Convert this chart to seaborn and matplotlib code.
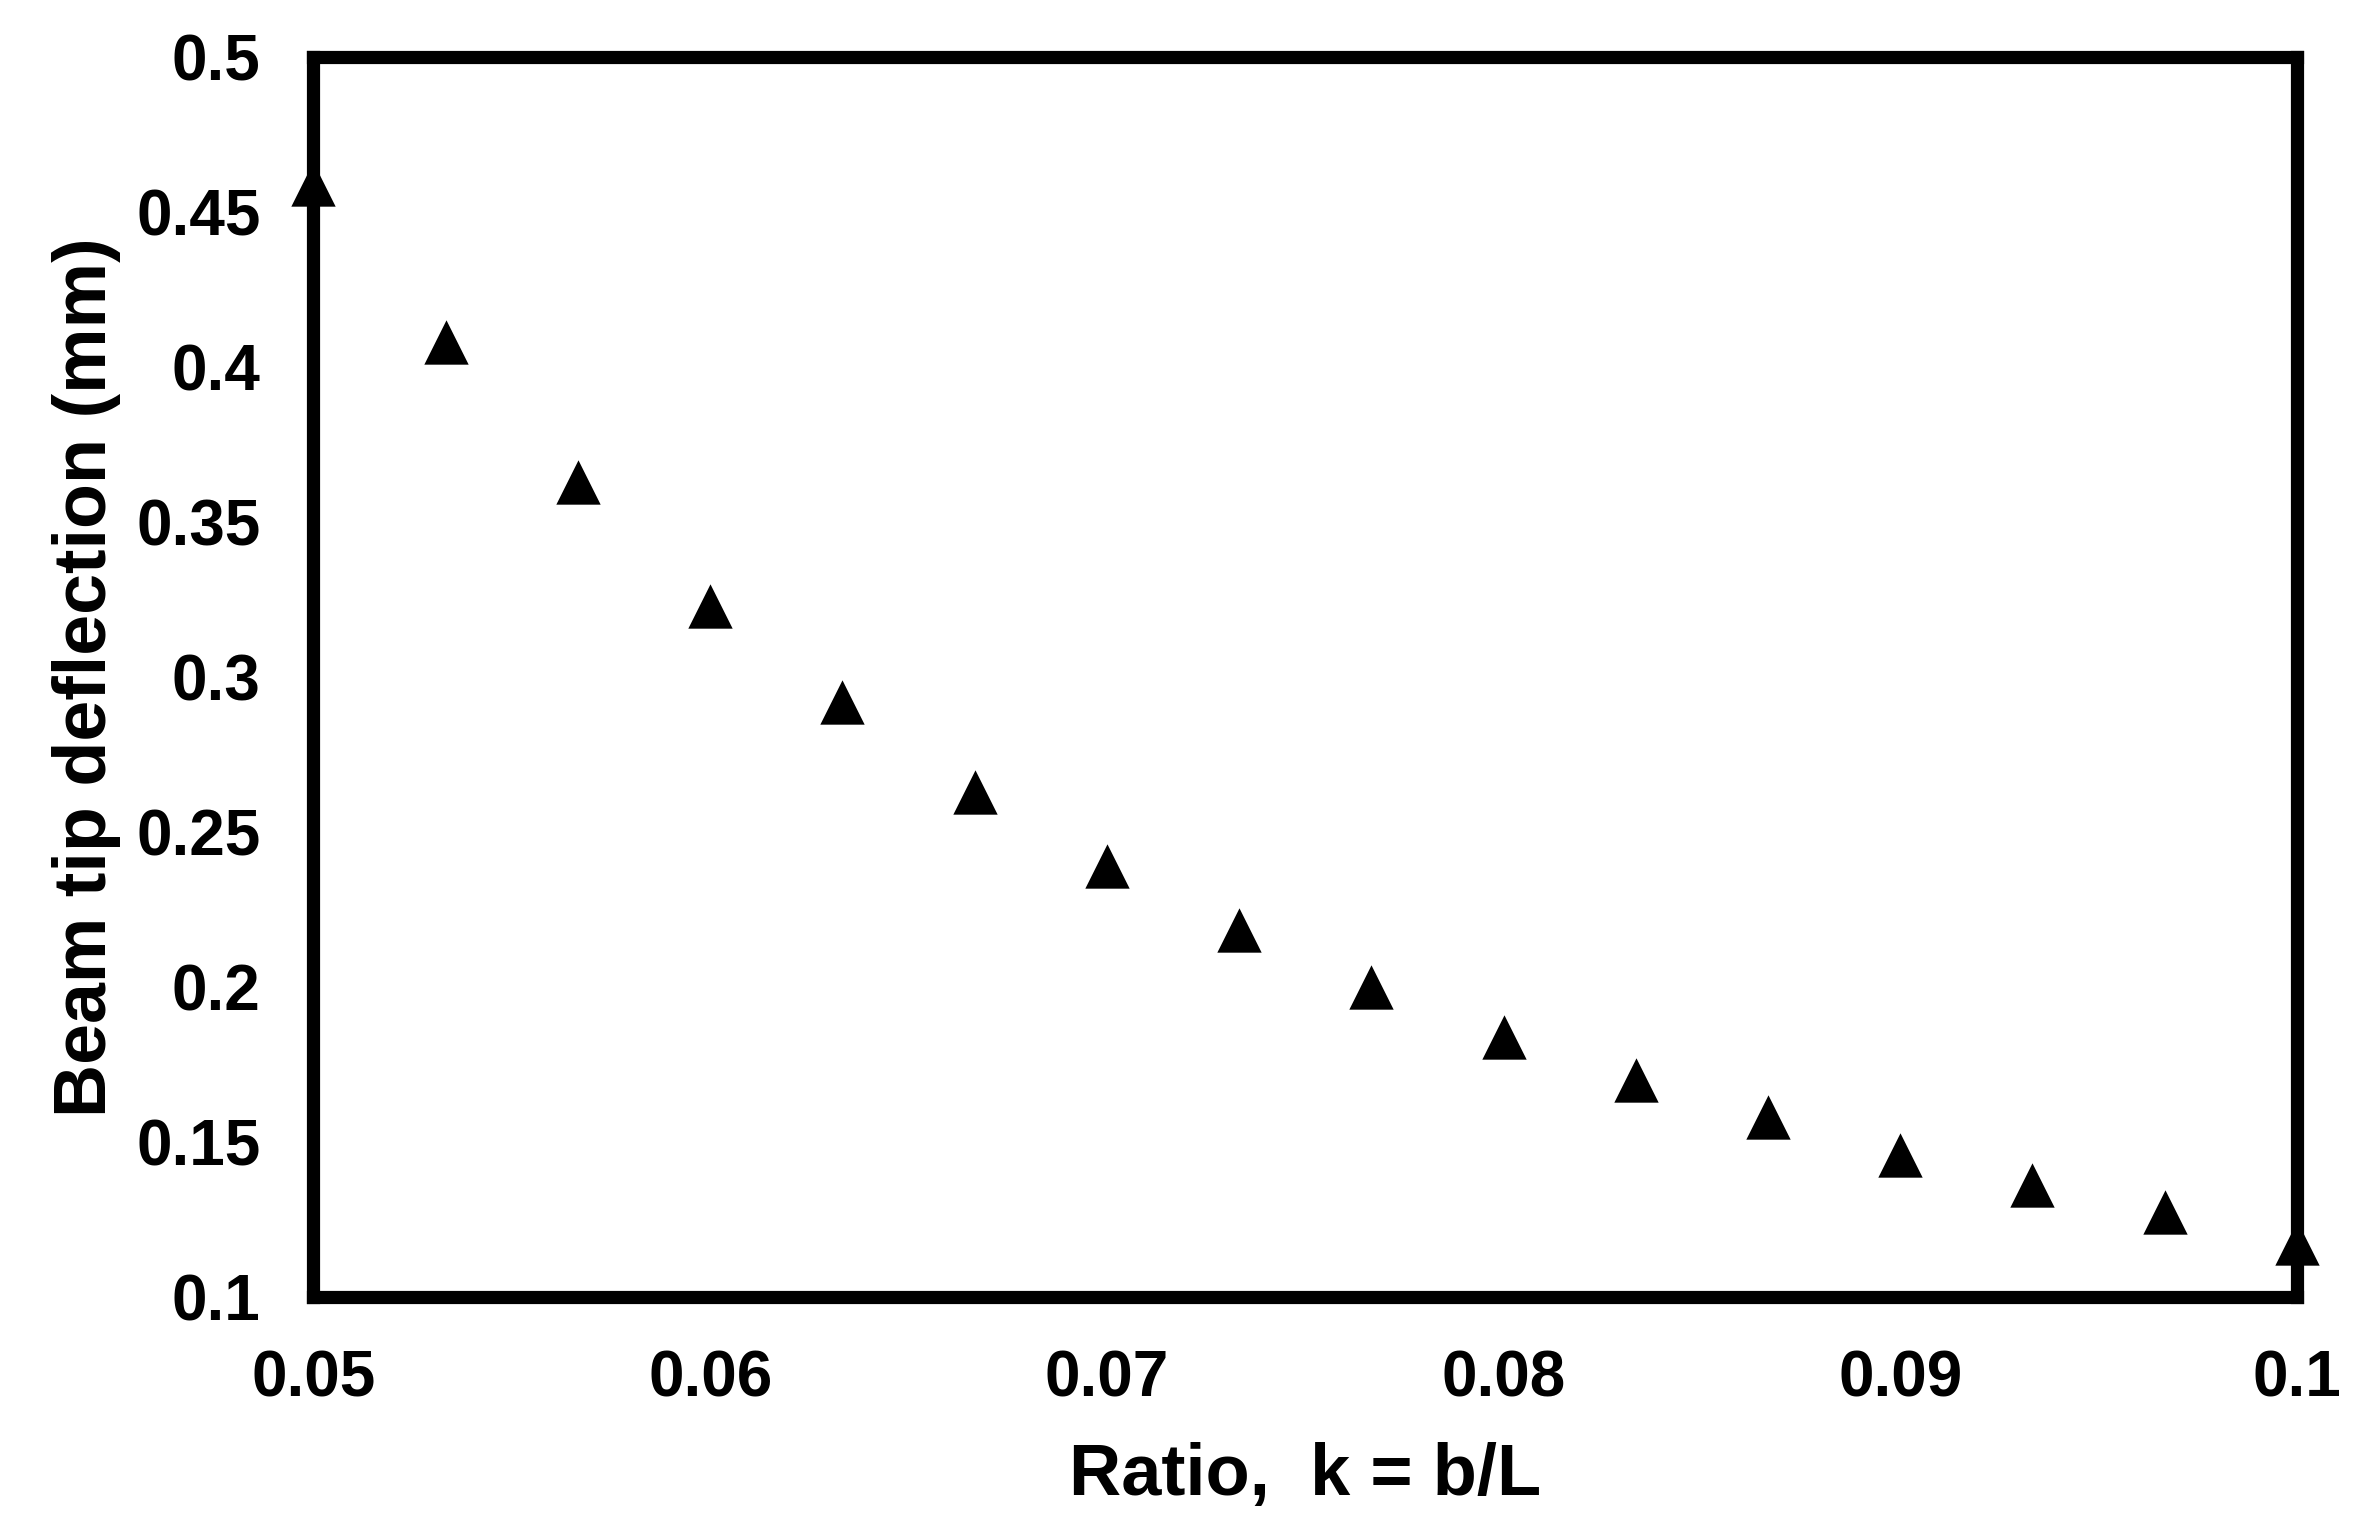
import matplotlib
matplotlib.use("Agg")
import matplotlib.pyplot as plt
import seaborn as sns
import pandas as pd

ratio_k = [0.05, 0.053333, 0.056667, 0.06, 0.063333, 0.066667, 0.07, 0.073333,
           0.076667, 0.08, 0.083333, 0.086667, 0.09, 0.093333, 0.096667, 0.1]
deflection_mm = [0.459, 0.408, 0.363, 0.323, 0.292, 0.263, 0.239, 0.2185,
                 0.200, 0.184, 0.170, 0.158, 0.1457, 0.136, 0.1274, 0.1175]
x_ticks = [0.05, 0.06, 0.07, 0.08, 0.09, 0.1]
x_tick_labels = ["0.05", "0.06", "0.07", "0.08", "0.09", "0.1"]
y_ticks = [0.1, 0.15, 0.2, 0.25, 0.3, 0.35, 0.4, 0.45, 0.5]
y_tick_labels = ["0.1", "0.15", "0.2", "0.25", "0.3", "0.35", "0.4", "0.45", "0.5"]

df = pd.DataFrame({"k": ratio_k, "d": deflection_mm})

sns.set_theme(style="white")
plt.rcParams["font.family"] = ["Liberation Sans", "DejaVu Sans"]

fig = plt.figure(figsize=(23.57, 15.35), dpi=100)
ax = fig.add_axes([0.133, 0.155, 0.8415, 0.808])

sns.scatterplot(data=df, x="k", y="d", marker="^", s=1020, color="black",
                edgecolor="black", linewidth=0, ax=ax, clip_on=False, zorder=5)

ax.set_xlim(0.05, 0.1)
ax.set_ylim(0.1, 0.5)
ax.set_xticks(x_ticks)
ax.set_xticklabels(x_tick_labels)
ax.set_yticks(y_ticks)
ax.set_yticklabels(y_tick_labels)
ax.tick_params(axis="both", length=0, colors="black", labelsize=46)
ax.tick_params(axis="x", pad=38)
ax.tick_params(axis="y", pad=38)
for lab in ax.get_xticklabels() + ax.get_yticklabels():
    lab.set_fontweight("bold")

for side, sp in ax.spines.items():
    sp.set_visible(True)
    sp.set_color("black")
    sp.set_linewidth(9.5)

ax.set_xlabel("Ratio,  k = b/L", fontsize=52, fontweight="bold", color="black")
ax.set_ylabel("Beam tip deflection (mm)", fontsize=53, fontweight="bold", color="black")
ax.xaxis.set_label_coords(0.5, -0.117)
ax.yaxis.set_label_coords(-0.097, 0.5)
ax.grid(False)

fig.savefig("out.png", dpi=100, facecolor="white")
